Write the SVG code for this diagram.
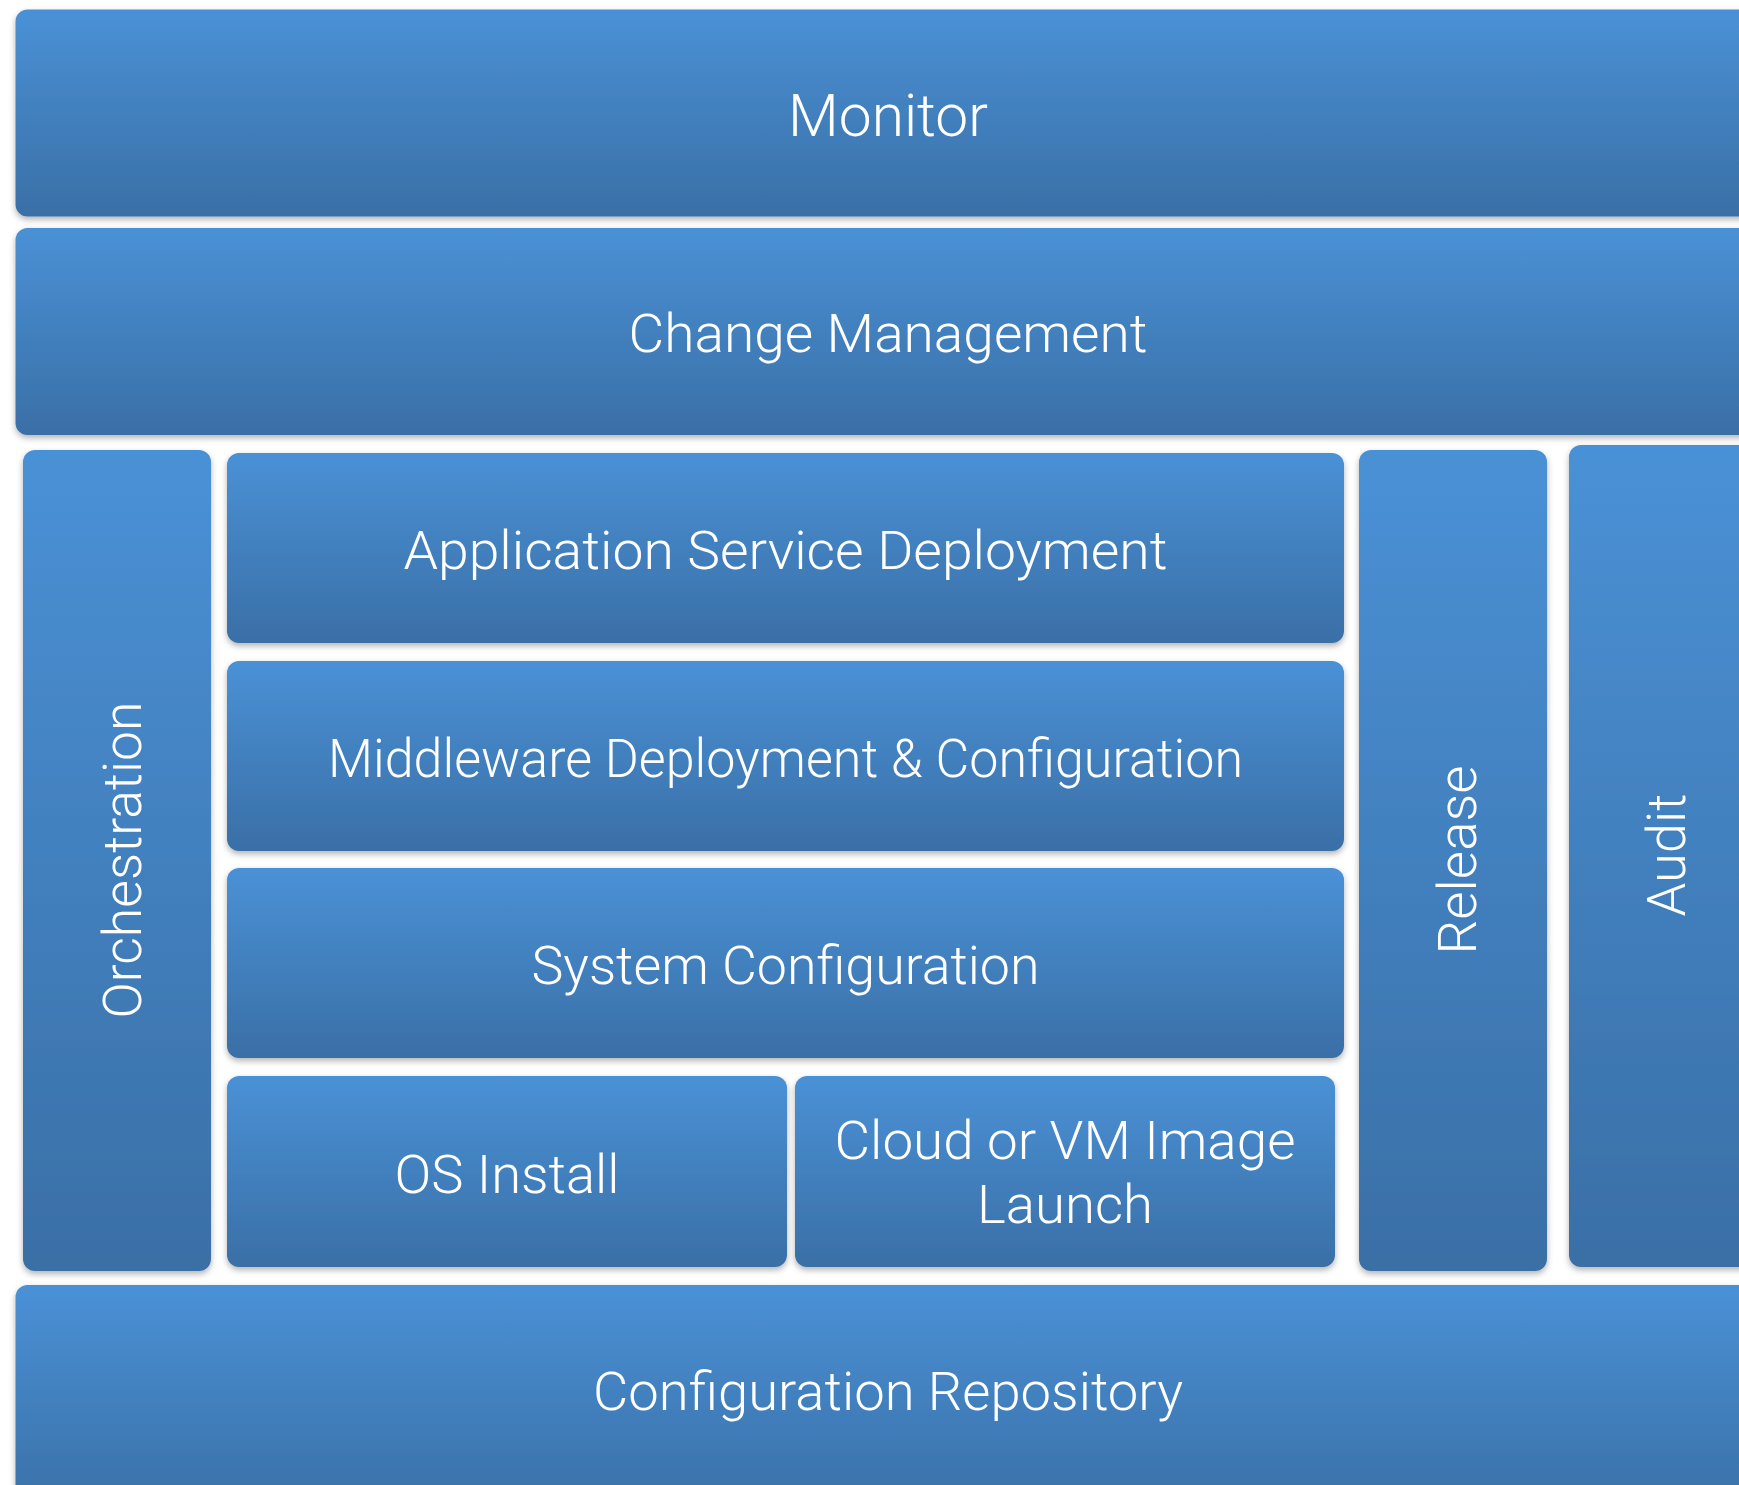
<svg xmlns="http://www.w3.org/2000/svg" width="1739" height="1485" viewBox="0 0 1739 1485">
<defs>
<linearGradient id="g" x1="0" y1="0" x2="0" y2="1">
<stop offset="0" stop-color="#4a91d6"/>
<stop offset="1" stop-color="#3a6fa6"/>
</linearGradient>
<filter id="sh" x="-5%" y="-5%" width="110%" height="115%">
<feDropShadow dx="0" dy="3" stdDeviation="3" flood-color="#000" flood-opacity="0.3"/>
</filter>
<style>
.b{fill:url(#g);filter:url(#sh)}
.t{font-family:Roboto,"Liberation Sans",Arial,sans-serif;font-weight:300;fill:#fff;text-anchor:middle;font-size:54px}
</style>
</defs>
<rect width="1739" height="1485" fill="#fff"/>
<g id="monitor"><rect class="b" x="15.5" y="9.5" width="1760" height="207" rx="12"/><text class="t" x="888" y="136" style="font-size:59px" textLength="200" lengthAdjust="spacingAndGlyphs">Monitor</text></g>
<g id="change-management"><rect class="b" x="15.5" y="228" width="1760" height="207" rx="12"/><text class="t" x="888" y="352" textLength="519" lengthAdjust="spacingAndGlyphs">Change Management</text></g>
<g id="orchestration"><rect class="b" x="23" y="450" width="188" height="821" rx="12"/><text class="t" transform="translate(141,860) rotate(-90)" textLength="317" lengthAdjust="spacingAndGlyphs">Orchestration</text></g>
<g id="app-service-deployment"><rect class="b" x="227" y="453" width="1117" height="190" rx="12"/><text class="t" x="785.5" y="569" textLength="764" lengthAdjust="spacingAndGlyphs">Application Service Deployment</text></g>
<g id="middleware"><rect class="b" x="227" y="661" width="1117" height="190" rx="12"/><text class="t" x="785.5" y="777" textLength="915" lengthAdjust="spacingAndGlyphs">Middleware Deployment &amp; Configuration</text></g>
<g id="system-configuration"><rect class="b" x="227" y="868" width="1117" height="190" rx="12"/><text class="t" x="785.5" y="984" textLength="508" lengthAdjust="spacingAndGlyphs">System Configuration</text></g>
<g id="os-install"><rect class="b" x="227" y="1076" width="560" height="191" rx="12"/><text class="t" x="507" y="1193" textLength="225" lengthAdjust="spacingAndGlyphs">OS Install</text></g>
<g id="cloud-vm"><rect class="b" x="795" y="1076" width="540" height="191" rx="12"/><text class="t" x="1065" y="1159" textLength="461" lengthAdjust="spacingAndGlyphs">Cloud or VM Image</text><text class="t" x="1065" y="1223" textLength="176" lengthAdjust="spacingAndGlyphs">Launch</text></g>
<g id="release"><rect class="b" x="1359" y="450" width="188" height="821" rx="12"/><text class="t" transform="translate(1476,860) rotate(-90)" textLength="189" lengthAdjust="spacingAndGlyphs">Release</text></g>
<g id="audit"><rect class="b" x="1569" y="445" width="200" height="822" rx="12"/><text class="t" transform="translate(1685,855) rotate(-90)" textLength="123" lengthAdjust="spacingAndGlyphs">Audit</text></g>
<g id="configuration-repository"><rect class="b" x="15.5" y="1285" width="1760" height="230" rx="12"/><text class="t" x="888" y="1410" textLength="590" lengthAdjust="spacingAndGlyphs">Configuration Repository</text></g>
<g id="connectors"/>
</svg>
